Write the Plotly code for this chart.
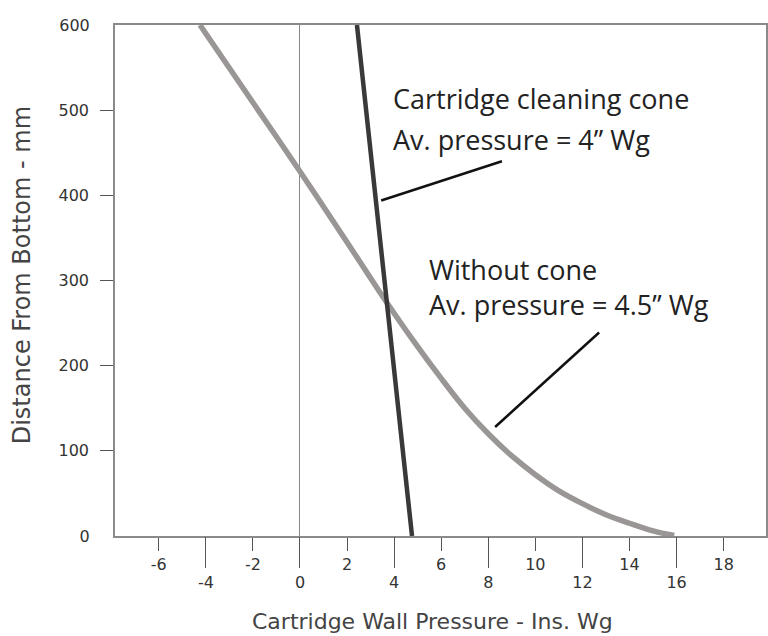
import plotly.graph_objects as go

# Without cone (grey curve)
without_x = [-4.25, -2, 0, 2, 3.4, 4.8, 6, 7, 8, 9, 10, 11, 12, 13, 14, 15, 15.9]
without_y = [600, 509, 428, 345, 286, 230, 185, 150, 120, 94, 72, 53, 38, 25, 15, 6, 0.5]

# Cartridge cleaning cone (dark line)
cone_x = [2.42, 4.76]
cone_y = [600, 0]

# Leader lines for labels
leader1_x = [8.58, 3.45]
leader1_y = [440, 394]
leader2_x = [12.71, 8.29]
leader2_y = [239, 128]

x_upper_ticks = [-6, -2, 2, 6, 10, 14, 18]
x_upper_text = ["-6", "-2", "2", "6", "10", "14", "18"]
x_lower_ticks = [-4, 0, 4, 8, 12, 16]
x_lower_text = ["-4", "0", "4", "8", "12", "16"]
y_mid_ticks = [100, 200, 300, 400, 500]
y_end_ticks = [0, 600]

x_range = [-7.86, 19.8]
y_range = [0, 600]

tick_font = dict(family="DejaVu Sans", size=16, color="#333")
xtitle_font = dict(family="DejaVu Sans", size=22, color="#444")
ytitle_font = dict(family="DejaVu Sans", size=24, color="#444")
ann_font = dict(family="Open Sans", size=27, color="#222")

fig = go.Figure()
fig.add_trace(go.Scatter(x=without_x, y=without_y, mode="lines",
                         line=dict(color="#9a9696", width=5.5, shape="spline", smoothing=1.0),
                         showlegend=False, hoverinfo="skip"))
fig.add_trace(go.Scatter(x=cone_x, y=cone_y, mode="lines",
                         line=dict(color="#3a3838", width=4.5),
                         showlegend=False, hoverinfo="skip"))
fig.add_trace(go.Scatter(x=leader1_x, y=leader1_y, mode="lines", xaxis="x2", yaxis="y2",
                         line=dict(color="#111", width=2.5), showlegend=False, hoverinfo="skip"))
fig.add_trace(go.Scatter(x=leader2_x, y=leader2_y, mode="lines", xaxis="x2", yaxis="y2",
                         line=dict(color="#111", width=2.5), showlegend=False, hoverinfo="skip"))

fig.update_layout(
    width=768, height=636,
    margin=dict(l=115, r=2, t=25, b=100),
    paper_bgcolor="white", plot_bgcolor="white",
    xaxis=dict(range=x_range, tickvals=x_upper_ticks, ticktext=x_upper_text,
               ticks="outside", ticklen=13, automargin=False,
               tickcolor="#555", tickwidth=1, tickfont=tick_font, ticklabelstandoff=0,
               showgrid=False, zeroline=True, zerolinecolor="#888", zerolinewidth=1,
               showline=True, linecolor="#8a8a8a", linewidth=1.5, mirror=True),
    xaxis2=dict(range=x_range, overlaying="x", side="bottom", anchor="y2",
                tickvals=x_lower_ticks, ticktext=x_lower_text, automargin=False,
                ticks="outside", ticklen=31,
                tickcolor="#555", tickwidth=1, tickfont=tick_font, ticklabelstandoff=1,
                showgrid=False, zeroline=False, showline=False),
    yaxis=dict(range=y_range, tickvals=y_mid_ticks, ticks="outside", ticklen=13,
               automargin=False,
               tickcolor="#555", tickwidth=1, tickfont=tick_font, ticklabelstandoff=8,
               showgrid=False, zeroline=False,
               showline=True, linecolor="#8a8a8a", linewidth=1.5, mirror=True),
    yaxis2=dict(range=y_range, overlaying="y", side="left", anchor="x2",
                tickvals=y_end_ticks, ticks="outside", ticklen=13, automargin=False,
                tickcolor="rgba(0,0,0,0)", tickfont=tick_font, ticklabelstandoff=8,
                showgrid=False, zeroline=False, showline=False),
)

annotations = [
    dict(text="Cartridge cleaning cone", x=3.87, y=514, xanchor="left", yanchor="middle"),
    dict(text="Av. pressure = 4” Wg", x=3.87, y=466, xanchor="left", yanchor="middle"),
    dict(text="Without cone", x=5.4, y=313, xanchor="left", yanchor="middle"),
    dict(text="Av. pressure = 4.5” Wg", x=5.4, y=272, xanchor="left", yanchor="middle"),
]
for a in annotations:
    fig.add_annotation(xref="x", yref="y", showarrow=False, font=ann_font, **a)

fig.add_annotation(text="Cartridge Wall Pressure - Ins. Wg", xref="paper", yref="paper",
                   x=0.487, y=-0.168, xanchor="center", yanchor="middle",
                   showarrow=False, font=xtitle_font)
fig.add_annotation(text="Distance From Bottom - mm", xref="paper", yref="paper",
                   x=-0.143, y=0.51, xanchor="center", yanchor="middle", textangle=-90,
                   showarrow=False, font=ytitle_font)

fig.write_html("out.html", config={"displayModeBar": False},
               post_script="document.body.style.margin='0';")
